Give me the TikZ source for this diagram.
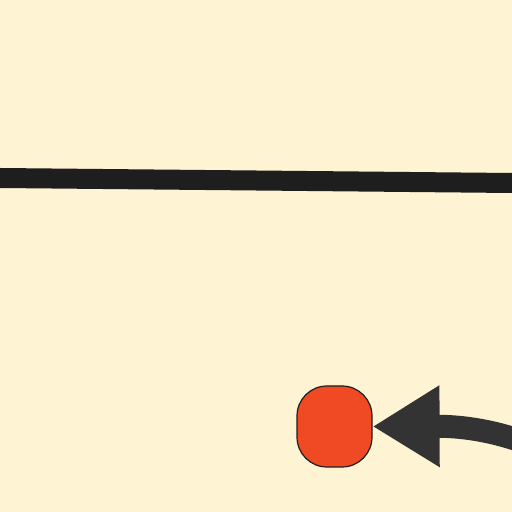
\documentclass[tikz,border=0pt]{standalone}
\usetikzlibrary{arrows.meta}
\definecolor{bg}{HTML}{FEF3D2}
\definecolor{redfill}{HTML}{F04A25}
\definecolor{arrowgray}{HTML}{333333}
\definecolor{linedark}{HTML}{1E1E1E}
\tikzset{
  x=1pt, y=1pt,
  dot/.style={draw=linedark, line width=1.2pt, fill=redfill, rounded corners=30pt,
    minimum width=75pt, minimum height=81pt, inner sep=0pt},
  thickline/.style={draw=linedark, line width=20pt},
  bigarrow/.style={draw=arrowgray, line width=23pt,
    -{Triangle[length=67pt, width=77pt]}}
}
\begin{document}
\begin{tikzpicture}
\fill[bg] (0,0) rectangle (512,512);
\useasboundingbox (0,0) rectangle (512,512);
\clip (0,0) rectangle (512,512);
\coordinate (la) at (-10,334.1);
\coordinate (lb) at (522,328.9);
\draw[thickline] (la) -- (lb);
\node[dot] (n) at (334.5,85.5) {};
\coordinate (s) at (620,20);
\draw[bigarrow] (s) .. controls (560,60) and (500,86) .. (n.east);
\end{tikzpicture}
\end{document}
